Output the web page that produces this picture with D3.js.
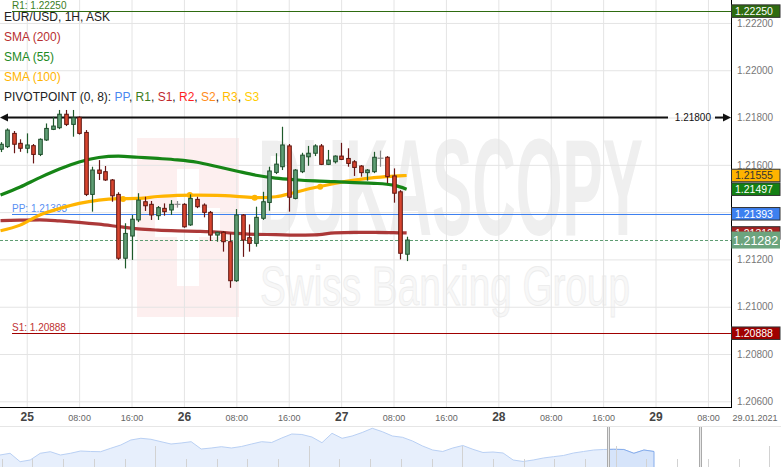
<!DOCTYPE html>
<html>
<head>
<meta charset="utf-8">
<script src="https://cdn.jsdelivr.net/npm/d3@7"></script>
<style>
body{margin:0;background:#fff;}
svg{display:block;font-family:"Liberation Sans",Arial,sans-serif;}
</style>
</head>
<body>
<svg id="chart" width="781" height="467"></svg>
<script>
// EUR/USD 1H candles with SMAs and pivot levels

const W = 781, H = 467;
const plotW = 731, plotH = 407;

// hourly candles, hours counted from 25.01 00:00
const candleHours = d3.range(-4, 59);
const opens = [1.21666,1.21677,1.21733,1.21691,1.21670,1.21681,1.21644,1.21705,1.21750,1.21757,
  1.21814,1.21771,1.21801,1.21737,1.21475,1.21578,1.21571,1.21536,1.21475,1.21205,
  1.21299,1.21367,1.21444,1.21433,1.21385,1.21416,1.21409,1.21433,1.21433,1.21346,
  1.21454,1.21430,1.21399,1.21303,1.21315,1.21275,1.21110,1.21388,1.21292,1.21268,
  1.21374,1.21441,1.21568,1.21592,1.21680,1.21458,1.21571,1.21634,1.21649,1.21680,
  1.21602,1.21613,1.21637,1.21627,1.21613,1.21595,1.21567,1.21571,1.21628,1.21632,
  1.21553,1.21486,1.21222];
const highs = [1.21696,1.21754,1.21743,1.21708,1.21733,1.21688,1.21712,1.21775,1.21803,1.21832,
  1.21832,1.21832,1.21805,1.21747,1.21592,1.21620,1.21595,1.21540,1.21484,1.21353,
  1.21388,1.21480,1.21465,1.21447,1.21426,1.21437,1.21451,1.21447,1.21438,1.21475,
  1.21465,1.21437,1.21405,1.21317,1.21320,1.21310,1.21413,1.21392,1.21348,1.21423,
  1.21486,1.21592,1.21649,1.21761,1.21688,1.21582,1.21651,1.21680,1.21687,1.21688,
  1.21663,1.21640,1.21693,1.21670,1.21620,1.21599,1.21582,1.21655,1.21660,1.21637,
  1.21585,1.21493,1.21296];
const lows = [1.21654,1.21671,1.21649,1.21655,1.21649,1.21606,1.21637,1.21701,1.21747,1.21751,
  1.21764,1.21719,1.21728,1.21468,1.21402,1.21536,1.21532,1.21444,1.21198,1.21162,
  1.21198,1.21358,1.21405,1.21367,1.21367,1.21385,1.21388,1.21419,1.21334,1.21342,
  1.21417,1.21378,1.21278,1.21275,1.21233,1.21080,1.21105,1.21211,1.21233,1.21254,
  1.21367,1.21406,1.21561,1.21578,1.21402,1.21454,1.21565,1.21596,1.21637,1.21599,
  1.21599,1.21606,1.21620,1.21592,1.21553,1.21550,1.21533,1.21565,1.21592,1.21522,
  1.21440,1.21200,1.21193];
const closes = [1.21687,1.21747,1.21687,1.21670,1.21684,1.21644,1.21708,1.21754,1.21764,1.21814,
  1.21771,1.21799,1.21733,1.21475,1.21578,1.21564,1.21536,1.21469,1.21205,1.21310,
  1.21370,1.21451,1.21427,1.21388,1.21419,1.21402,1.21433,1.21432,1.21338,1.21458,
  1.21423,1.21399,1.21303,1.21315,1.21275,1.21110,1.21388,1.21282,1.21268,1.21378,
  1.21444,1.21574,1.21603,1.21684,1.21463,1.21578,1.21641,1.21649,1.21680,1.21602,
  1.21620,1.21637,1.21623,1.21606,1.21589,1.21567,1.21578,1.21632,1.21627,1.21550,
  1.21480,1.21226,1.21282];

// moving averages (read every 3 hours)
const smaHours = [-4,-1,2,5,8,11,14,17,20,23,26,29,32,35,38,41,44,47,50,53,56,58];
const sma200 = [1.21364,1.21366,1.21367,1.21363,1.21357,1.21349,1.21339,1.21329,1.21324,1.21321,1.21319,
  1.21316,1.21310,1.21306,1.21305,1.21303,1.21304,1.21312,1.21314,1.21314,1.21313,1.21312];
const sma55 = [1.21472,1.21506,1.21546,1.21582,1.21612,1.21631,1.21637,1.21632,1.21627,1.21621,1.21611,
  1.21593,1.21574,1.21556,1.21544,1.21537,1.21532,1.21529,1.21525,1.21522,1.21514,1.21497];
const sma100 = [1.21321,1.21345,1.21388,1.21415,1.21437,1.21451,1.21457,1.21458,1.21466,1.21471,1.21472,
  1.21471,1.21467,1.21461,1.21465,1.21484,1.21504,1.21521,1.21535,1.21546,1.21552,1.21555];
const sma100DotHours = [14.7, 24.9, 34.8, 44.8];
const sma100DotVals = [1.21455, 1.21472, 1.21461, 1.21507];

// levels
const pivotR1 = 1.22250, pivotPP = 1.21393, pivotS1 = 1.20888;
const markLevel = 1.21800, lastPrice = 1.21282;

// axes
const yTicks = [1.206,1.208,1.210,1.212,1.214,1.216,1.218,1.220,1.222];
const xTickHours = [0,8,16,24,32,40,48,56,64,72,80,88,96,104];
const xTickLabels = ["25","08:00","16:00","26","08:00","16:00","27","08:00","16:00","28","08:00","16:00","29","08:00"];
const dateLabel = "29.01.2021";

// navigator history
const navValues = [1.2050,1.20713,1.19663,1.19875,1.20713,1.20913,1.2050,1.20713,1.2100,1.20938,
  1.20913,1.21338,1.2175,1.22375,1.22588,1.22463,1.22163,1.21875,1.2200,1.22163,
  1.2125,1.21375,1.21538,1.21375,1.21563,1.21875,1.22163,1.22063,1.22625,1.23125,
  1.23063,1.2275,1.22038,1.23213,1.22588,1.22875,1.23313,1.23838,1.23413,1.22875,
  1.22713,1.2225,1.21625,1.21125,1.20938,1.21375,1.21688,1.21213,1.20813,1.20875,
  1.2075,1.19875,1.19688,1.19875,1.20125,1.20288,1.20438,1.2075,1.20938,1.21125,
  1.21188,1.21213,1.21188,1.20713,1.21125,1.20938];

const svg = d3.select("#chart");
svg.append("rect").attr("width", W).attr("height", H).attr("fill", "#fff");

const x = d3.scaleLinear().domain([-4.08, 107.52]).range([0, plotW]);
const y = d3.scaleLinear().domain([1.20576, 1.22297]).range([plotH, 0]);

const plot = svg.append("g");
plot.append("clipPath").attr("id", "plotClip")
  .append("rect").attr("width", plotW).attr("height", plotH);

// watermark
const wm = plot.append("g");
wm.append("rect").attr("x", 137).attr("y", 138).attr("width", 102).attr("height", 179).attr("fill", "#fdefef");
wm.append("rect").attr("x", 177).attr("y", 169).attr("width", 22).attr("height", 117).attr("fill", "#fff");
wm.append("rect").attr("x", 155).attr("y", 208).attr("width", 65).attr("height", 29).attr("fill", "#fff");
wm.append("text").attr("x", 258).attr("y", 235)
  .attr("font-size", 137).attr("font-weight", "bold")
  .attr("textLength", 385).attr("lengthAdjust", "spacingAndGlyphs")
  .attr("fill", "#efefef").text("DUKASCOPY");
wm.append("text").attr("x", 260).attr("y", 305)
  .attr("font-size", 56)
  .attr("textLength", 370).attr("lengthAdjust", "spacingAndGlyphs")
  .attr("fill", "#f7f7f7").attr("stroke", "#ececec").attr("stroke-width", 0.8)
  .text("Swiss Banking Group");

// grid
const hGrid = plot.append("g")
  .call(d3.axisRight(y).tickValues(yTicks).tickSize(plotW).tickFormat(""));
hGrid.select(".domain").remove();
hGrid.selectAll("line").attr("stroke", "#e4e4e4");

const vGrid = plot.append("g")
  .call(d3.axisBottom(x).tickValues(xTickHours).tickSize(plotH).tickFormat(""));
vGrid.select(".domain").remove();
vGrid.selectAll("line").attr("stroke", "#e4e4e4");

// pivot lines
function level(v, color, x0, label, labelColor) {
  const yy = Math.round(y(v)) + 0.5;
  plot.append("line").attr("x1", x0).attr("x2", plotW).attr("y1", yy).attr("y2", yy)
    .attr("stroke", color).attr("stroke-width", 1);
  if (label) {
    plot.append("text").attr("x", 12).attr("y", yy - 2.5)
      .attr("font-size", 10).attr("fill", labelColor).text(label);
  }
}
level(pivotR1, "#2e6b10", 12, "R1: " + pivotR1.toFixed(5), "#3b7d1e");
level(pivotPP, "#3d80f0", 12, "PP: " + pivotPP.toFixed(5), "#5a90f2");
level(pivotS1, "#a00000", 12, "S1: " + pivotS1.toFixed(5), "#c03030");

// marked level with arrows
const ym = y(markLevel);
plot.append("line").attr("x1", 4).attr("x2", 668).attr("y1", ym).attr("y2", ym)
  .attr("stroke", "#111").attr("stroke-width", 2);
plot.append("path").attr("d", `M0,${ym}L8,${ym - 4}L8,${ym + 4}Z`).attr("fill", "#111");
plot.append("line").attr("x1", 715).attr("x2", 724).attr("y1", ym).attr("y2", ym)
  .attr("stroke", "#111").attr("stroke-width", 2);
plot.append("path").attr("d", `M${plotW},${ym}L${plotW - 8},${ym - 4}L${plotW - 8},${ym + 4}Z`).attr("fill", "#111");
plot.append("text").attr("x", 711).attr("y", ym + 3.5).attr("text-anchor", "end")
  .attr("font-size", 10).attr("fill", "#111").text(markLevel.toFixed(5));

// last price dashed line
plot.append("line").attr("x1", 0).attr("x2", plotW)
  .attr("y1", Math.round(y(lastPrice)) + 0.5).attr("y2", Math.round(y(lastPrice)) + 0.5)
  .attr("stroke", "#5f9c72").attr("stroke-dasharray", "3,2");

// SMA lines
const lineGen = vals => d3.line()
  .x((d, i) => x(smaHours[i]))
  .y(d => y(d))
  .curve(d3.curveMonotoneX)(vals);

const smaG = plot.append("g").attr("clip-path", "url(#plotClip)");
smaG.append("path").attr("d", lineGen(sma200)).attr("fill", "none")
  .attr("stroke", "#a32424").attr("stroke-opacity", 0.9).attr("stroke-width", 3.2);
smaG.append("path").attr("d", lineGen(sma100)).attr("fill", "none")
  .attr("stroke", "#ffb400").attr("stroke-width", 3.2);
smaG.selectAll(".dot").data(sma100DotVals).join("circle")
  .attr("cx", (d, i) => x(sma100DotHours[i])).attr("cy", d => y(d))
  .attr("r", 3).attr("fill", "#ffb400");
smaG.append("path").attr("d", lineGen(sma55)).attr("fill", "none")
  .attr("stroke", "#168516").attr("stroke-width", 3.2);

// candles
const candles = candleHours.map((h, i) => ({h, o: opens[i], hi: highs[i], lo: lows[i], c: closes[i]}));
const cg = plot.append("g").attr("clip-path", "url(#plotClip)");
candles.forEach(d => {
  const cx = Math.round(x(d.h)) + 0.5;
  const doji = Math.abs(d.c - d.o) < 0.00003;
  const up = d.c >= d.o;
  const wickCol = doji ? "#888" : (up ? "#1e5a2a" : "#6a1414");
  cg.append("line").attr("x1", cx).attr("x2", cx)
    .attr("y1", y(d.hi)).attr("y2", y(d.lo))
    .attr("stroke", wickCol).attr("stroke-width", 1.2);
  if (doji) {
    cg.append("line").attr("x1", cx - 3).attr("x2", cx + 3)
      .attr("y1", y(d.o)).attr("y2", y(d.o)).attr("stroke", "#888").attr("stroke-width", 1.2);
  } else {
    const top = y(Math.max(d.o, d.c)), bot = y(Math.min(d.o, d.c));
    cg.append("rect").attr("x", cx - 1.8).attr("width", 3.6)
      .attr("y", top).attr("height", Math.max(1, bot - top))
      .attr("fill", up ? "#5f9e75" : "#d8452f")
      .attr("stroke", up ? "#1e4d2b" : "#5c1610").attr("stroke-width", 1);
  }
});

// frame
svg.append("line").attr("x1", plotW + 0.5).attr("x2", plotW + 0.5).attr("y1", 0).attr("y2", plotH + 1)
  .attr("stroke", "#000");
svg.append("line").attr("x1", 0).attr("x2", plotW + 1).attr("y1", plotH + 0.5).attr("y2", plotH + 0.5)
  .attr("stroke", "#000");

// right axis labels
const yAxis = svg.append("g").attr("transform", `translate(${plotW},0)`)
  .call(d3.axisRight(y).tickValues(yTicks).tickSize(0).tickPadding(6).tickFormat(d3.format(".5f")));
yAxis.select(".domain").remove();
yAxis.selectAll("text").attr("font-size", 10).attr("fill", "#777").attr("font-family", null);

// price tags
function tag(v, fill, textFill, big) {
  const hgt = big ? 17 : 12.5;
  const yy = y(v);
  const g = svg.append("g");
  g.append("rect").attr("x", plotW + 0.5).attr("y", yy - hgt / 2).attr("width", 48.5).attr("height", hgt)
    .attr("fill", fill).attr("stroke", big ? "none" : "#333").attr("stroke-width", 1);
  g.append("text").attr("x", big ? 733 : 735).attr("y", yy + (big ? 4.5 : 4))
    .attr("font-size", big ? 12.5 : 10.5).attr("fill", textFill).text(v.toFixed(5));
}
tag(pivotR1, "#2e6b10", "#fff");
tag(sma100[sma100.length - 1], "#ffb400", "#333");
tag(sma55[sma55.length - 1], "#148014", "#fff");
tag(pivotPP, "#3d80f0", "#fff");
tag(sma200[sma200.length - 1], "#a52222", "#fff");
tag(lastPrice, "#6ca47e", "#fff", true);
tag(pivotS1, "#a00000", "#fff");

// x axis labels
const xAxis = svg.append("g").attr("transform", `translate(0,${plotH})`)
  .call(d3.axisBottom(x).tickValues(xTickHours).tickSize(0).tickFormat((d, i) => xTickLabels[i]));
xAxis.select(".domain").remove();
xAxis.selectAll("text")
  .attr("font-family", null)
  .attr("y", 13.5).attr("dy", null)
  .each(function(d, i) {
    const isDay = xTickLabels[i].indexOf(":") < 0;
    d3.select(this)
      .attr("font-size", isDay ? 12 : 9)
      .attr("font-weight", isDay ? "bold" : "normal")
      .attr("fill", isDay ? "#444" : "#666");
  });
svg.append("text").attr("x", 755).attr("y", plotH + 13.5).attr("text-anchor", "middle")
  .attr("font-size", 9).attr("fill", "#666").text(dateLabel);

// navigator
svg.append("line").attr("x1", 0).attr("x2", W).attr("y1", 426.5).attr("y2", 426.5).attr("stroke", "#e6e6e6");
const navX = d3.scaleLinear().domain([0, navValues.length - 1]).range([0, 654]);
const navY = d3.scaleLinear().domain([1.19, 1.24]).range([467, 427]);
const navArea = d3.area().x((d, i) => navX(i)).y0(H).y1(d => navY(d));
const navLine = d3.line().x((d, i) => navX(i)).y(d => navY(d));

svg.append("path").attr("d", navArea(navValues)).attr("fill", "#e7effc");
svg.append("path").attr("d", navLine(navValues)).attr("fill", "none").attr("stroke", "#b9d0f4").attr("stroke-width", 1);

svg.append("clipPath").attr("id", "selClip")
  .append("rect").attr("x", 608).attr("y", 427).attr("width", 92).attr("height", 40);
const sel = svg.append("g").attr("clip-path", "url(#selClip)");
sel.append("path").attr("d", navArea(navValues)).attr("fill", "#d6e4fa");
sel.append("path").attr("d", navLine(navValues)).attr("fill", "none").attr("stroke", "#86adec").attr("stroke-width", 1);
svg.append("line").attr("x1", navX(navValues.length - 1)).attr("x2", navX(navValues.length - 1))
  .attr("y1", navY(navValues[navValues.length - 1])).attr("y2", H).attr("stroke", "#86adec");

const navTick = d3.scaleLinear().domain([0, 25]).range([1.7, 769.2]);
svg.append("g").selectAll("line").data(d3.range(26)).join("line")
  .attr("x1", d => Math.round(navTick(d)) + 0.5).attr("x2", d => Math.round(navTick(d)) + 0.5)
  .attr("y1", d => (d > 0 && d % 5 === 0) ? 446 : 459).attr("y2", H)
  .attr("stroke", "#d2d2d2");

[607, 699].forEach(hx => {
  svg.append("line").attr("x1", hx + 0.5).attr("x2", hx + 0.5).attr("y1", 427).attr("y2", H).attr("stroke", "#aaa");
  svg.append("line").attr("x1", hx + 2.5).attr("x2", hx + 2.5).attr("y1", 427).attr("y2", H).attr("stroke", "#aaa");
  svg.append("rect").attr("x", hx + 1).attr("y", 427).attr("width", 1).attr("height", 40).attr("fill", "#e8e8e8");
});

// legend
const legend = svg.append("g").attr("font-size", 12);
legend.append("text").attr("x", 4).attr("y", 20.5).attr("fill", "#222").text("EUR/USD, 1H, ASK");
legend.append("text").attr("x", 4).attr("y", 40.5).attr("fill", "#b83030").text("SMA (200)");
legend.append("text").attr("x", 4).attr("y", 60.5).attr("fill", "#1e8a1e").text("SMA (55)");
legend.append("text").attr("x", 4).attr("y", 80.5).attr("fill", "#ffb400").text("SMA (100)");
const pivotParts = [
  ["PIVOTPOINT (0, 8): ", "#222"], ["PP", "#4a88f0"], [", ", "#222"], ["R1", "#3b7d1e"], [", ", "#222"],
  ["S1", "#c0282d"], [", ", "#222"], ["R2", "#ff1f1f"], [", ", "#222"], ["S2", "#ff8c1a"], [", ", "#222"],
  ["R3", "#ffbb00"], [", ", "#222"], ["S3", "#ffcc00"]
];
const pt = legend.append("text").attr("x", 4).attr("y", 100.5).attr("xml:space", "preserve");
pivotParts.forEach(p => pt.append("tspan").attr("fill", p[1]).text(p[0]));
</script>
</body>
</html>
